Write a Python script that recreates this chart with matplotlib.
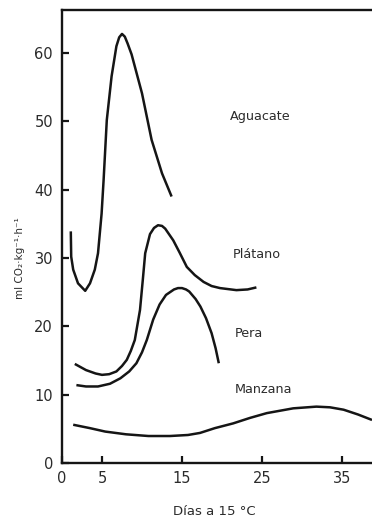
import matplotlib
matplotlib.use("Agg")
import matplotlib.pyplot as plt

plt.rcParams['font.family'] = ['DejaVu Sans']

# respiration (ml CO2 per kg per h) against days at 15 C
aguacate_dias = [1.1, 1.15, 1.4, 2.0, 2.9, 3.5, 4.1, 4.5, 4.95, 5.2, 5.6, 6.2, 6.8, 7.15,
                 7.5, 7.85, 8.2, 8.7, 10.0, 11.2, 12.5, 13.7]
aguacate_co2 = [33.9, 30.2, 28.3, 26.3, 25.2, 26.3, 28.3, 30.7, 36.5, 41.4, 50.2, 56.6, 61.0, 62.3,
                62.8, 62.4, 61.4, 59.8, 54.1, 47.3, 42.4, 39.0]

platano_dias = [1.6, 3.0, 4.2, 5.0, 5.9, 6.8, 7.5, 8.1, 8.6, 9.1, 9.75, 10.1, 10.4, 11.0, 11.5,
                12.0, 12.5, 12.9, 13.9, 14.7, 15.6, 16.6, 17.7, 18.7, 19.75, 21.8, 23.2, 24.3]
platano_co2 = [14.5, 13.6, 13.1, 12.9, 13.0, 13.4, 14.2, 15.1, 16.4, 18.0, 22.4, 26.8, 30.7, 33.5, 34.4,
               34.8, 34.7, 34.3, 32.6, 30.8, 28.7, 27.5, 26.5, 25.9, 25.6, 25.3, 25.4, 25.7]

pera_dias = [1.8, 3.0, 4.5, 6.0, 7.3, 8.4, 9.3, 10.0, 10.6, 11.4, 12.2, 13.0, 14.0, 14.5, 15.0,
             15.5, 15.9, 16.7, 17.3, 18.0, 18.7, 19.2, 19.6]
pera_co2 = [11.4, 11.2, 11.2, 11.6, 12.4, 13.4, 14.6, 16.2, 18.0, 21.0, 23.2, 24.6, 25.4, 25.6, 25.6,
            25.4, 25.1, 24.0, 22.9, 21.2, 19.0, 16.8, 14.6]

manzana_dias = [1.4, 3.5, 5.4, 8.0, 10.8, 13.5, 15.75, 17.25, 19.1, 21.4, 23.5, 25.6, 28.9,
                31.8, 33.5, 35.2, 37.0, 38.75]
manzana_co2 = [5.6, 5.1, 4.6, 4.2, 3.95, 3.95, 4.1, 4.4, 5.1, 5.8, 6.6, 7.3, 8.0,
               8.25, 8.15, 7.8, 7.1, 6.3]

etiquetas = ['Aguacate', 'Plátano', 'Pera', 'Manzana']
etiqueta_x = [21.0, 21.4, 21.6, 21.6]
etiqueta_y = [50.7, 30.5, 19.0, 10.7]

x_ticks = [0, 5, 15, 25, 35]
y_ticks = [0, 10, 20, 30, 40, 50, 60]

ink = '#151515'
txt = '#2b2b2b'

fig = plt.figure(figsize=(3.72, 5.22), dpi=100)
ax = fig.add_axes([62 / 372, 59 / 522, 310 / 372, 453 / 522])

series = [(aguacate_dias, aguacate_co2), (platano_dias, platano_co2),
          (pera_dias, pera_co2), (manzana_dias, manzana_co2)]
for dias, co2 in series:
    ax.plot(dias, co2, color=ink, lw=1.8, solid_joinstyle='round', solid_capstyle='butt')

for nombre, tx, ty in zip(etiquetas, etiqueta_x, etiqueta_y):
    ax.text(tx, ty, nombre, fontsize=9.2, color=txt, ha='left', va='center')

ax.set_xlim(0, 38.75)
ax.set_ylim(0, 66.3)
ax.set_xticks(x_ticks)
ax.set_yticks(y_ticks)
ax.tick_params(direction='in', length=5, width=1.6, colors=ink, labelcolor=txt,
               labelsize=10.5)
ax.tick_params(axis='y', pad=6.5)
ax.tick_params(axis='x', pad=6)

for side in ['left', 'bottom', 'top']:
    ax.spines[side].set_linewidth(1.7)
    ax.spines[side].set_color(ink)
ax.spines['right'].set_visible(False)

ax.text(0.49, -0.106, 'Días a 15 °C', transform=ax.transAxes, ha='center', va='center',
        fontsize=9.5, color=txt)
ax.text(-0.135, 0.453, 'ml CO₂·kg⁻¹·h⁻¹', transform=ax.transAxes, ha='center', va='center',
        rotation=90, fontsize=7.5, color=txt)

fig.savefig('out.png', dpi=100)
